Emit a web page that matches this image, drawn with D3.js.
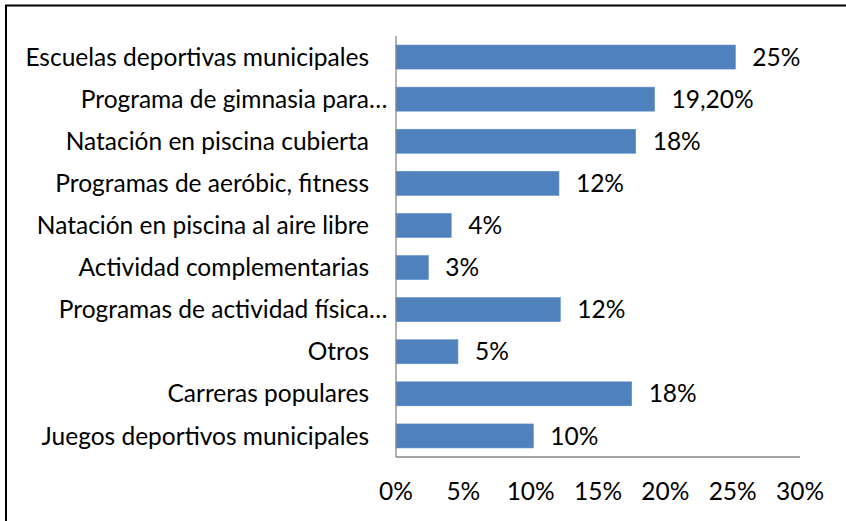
<!DOCTYPE html>
<html>
<head>
<meta charset="utf-8">
<script src="https://cdn.jsdelivr.net/npm/d3@7"></script>
<style>
  body { margin: 0; background: #fff; }
  svg text { font-family: Lato, "Open Sans", sans-serif; fill: #000; }
</style>
</head>
<body>
<script>
// Data (top to bottom)
var categories = [
  "Escuelas deportivas municipales",
  "Programa de gimnasia para",
  "Natación en piscina cubierta",
  "Programas de aeróbic, fitness",
  "Natación en piscina al aire libre",
  "Actividad complementarias",
  "Programas de actividad física",
  "Otros",
  "Carreras populares",
  "Juegos deportivos municipales"
];
var truncated = [false, true, false, false, false, false, true, false, false, false];
var values = [25.2, 19.2, 17.8, 12.1, 4.1, 2.4, 12.2, 4.6, 17.5, 10.2];
var valueLabels = ["25%", "19,20%", "18%", "12%", "4%", "3%", "12%", "5%", "18%", "10%"];
var xTicks = [0, 5, 10, 15, 20, 25, 30];

var width = 846, height = 521;
var plotLeft = 396, plotRight = 800, plotTop = 36, plotBottom = 457;
var fontSize = 24.5;

var svg = d3.select("body").append("svg")
  .attr("width", width)
  .attr("height", height);

// outer frame (right and bottom run off the picture)
svg.append("rect")
  .attr("x", 6).attr("y", 5.5)
  .attr("width", 900).attr("height", 600)
  .attr("fill", "none")
  .attr("stroke", "#000")
  .attr("stroke-width", 2);

var x = d3.scaleLinear().domain([0, 30]).range([plotLeft, plotRight]);
var y = d3.scaleBand().domain(categories).range([plotTop, plotBottom]).paddingInner(0.43).paddingOuter(0.215);

// bars
svg.selectAll("rect.bar")
  .data(values)
  .enter()
  .append("rect")
  .attr("class", "bar")
  .attr("x", x(0))
  .attr("y", function(d, i) { return y(categories[i]); })
  .attr("width", function(d) { return x(d) - x(0); })
  .attr("height", y.bandwidth())
  .attr("fill", "#4f81bd")
  .attr("stroke", "#5b8ccc")
  .attr("stroke-width", 0.6);

// axis lines
svg.append("line")
  .attr("x1", plotLeft).attr("x2", plotLeft)
  .attr("y1", plotTop).attr("y2", plotBottom)
  .attr("stroke", "#878787").attr("stroke-width", 1.3);
svg.append("line")
  .attr("x1", plotLeft).attr("x2", plotRight)
  .attr("y1", plotBottom).attr("y2", plotBottom)
  .attr("stroke", "#878787").attr("stroke-width", 1.3);

// category labels
var cats = svg.append("g");
cats.selectAll("text.cat")
  .data(categories)
  .enter()
  .append("text")
  .attr("class", "cat")
  .attr("x", 369)
  .attr("y", function(d) { return y(d) + y.bandwidth() / 2; })
  .attr("dy", "0.35em")
  .attr("text-anchor", "end")
  .style("font-size", fontSize + "px")
  .text(function(d) { return d; });
cats.selectAll("text.ell")
  .data(categories.filter(function(d, i) { return truncated[i]; }))
  .enter()
  .append("text")
  .attr("class", "ell")
  .attr("x", 369)
  .attr("y", function(d) { return y(d) + y.bandwidth() / 2; })
  .attr("dy", "0.35em")
  .style("font-size", fontSize + "px")
  .text("…");

// value labels
svg.selectAll("text.val")
  .data(values)
  .enter()
  .append("text")
  .attr("class", "val")
  .attr("x", function(d) { return x(d) + 17; })
  .attr("y", function(d, i) { return y(categories[i]) + y.bandwidth() / 2; })
  .attr("dy", "0.35em")
  .style("font-size", fontSize + "px")
  .text(function(d, i) { return valueLabels[i]; });

// x tick labels
svg.selectAll("text.tick")
  .data(xTicks)
  .enter()
  .append("text")
  .attr("class", "tick")
  .attr("x", function(d) { return x(d); })
  .attr("y", 491)
  .attr("dy", "0.35em")
  .attr("text-anchor", "middle")
  .style("font-size", fontSize + "px")
  .text(function(d) { return d + "%"; });
</script>
</body>
</html>
